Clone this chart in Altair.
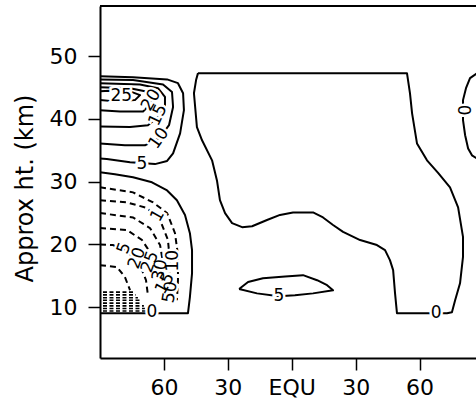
import altair as alt
import pandas as pd

# ---- contour paths (latitude in degrees, negative = left hemisphere; height in km) ----
# Zero line bounding the central region
ZERO_MID_LAT = [-44.0, 54.1, 55.5, 56.5, 58.8, 63.5, 68.7, 74.3, 78.1, 80.4, 80.4, 79.0, 76.7,
                75.2, 72.9, 49.4, 48.5, 47.6, 46.1, 43.8, 40.0, 32.1, 24.1, 19.4, 14.7, 10.0,
                0.6, -5.5, -11.6, -18.6, -23.3, -28.0, -31.3, -33.7, -35.1, -37.4, -42.1,
                -44.5, -45.9, -44.9, -44.0]
ZERO_MID_KM = [47.3, 47.3, 44.1, 40.9, 36.1, 33.4, 31.4, 29.1, 25.9, 21.2, 18.0, 13.8, 11.1,
               9.2, 9.04, 9.04, 12.2, 15.9, 17.5, 19.1, 19.9, 20.7, 22.0, 23.1, 24.3, 25.1,
               25.1, 24.7, 23.9, 22.9, 22.75, 23.4, 25.0, 27.05, 30.2, 33.4, 36.6,
               38.7, 44.1, 46.2, 47.3]

# Small closed 5 contour near the equator
FIVE_EQ_LAT = [-24.7, -20.5, -13.5, -3.1, 5.3, 11.9, 16.6, 19.4, 10.0, 1.5, -6.0, -16.3, -24.7]
FIVE_EQ_KM = [12.9, 14.0, 14.6, 14.9, 15.1, 14.3, 13.5, 12.7, 12.2, 11.9, 11.75, 12.2, 12.9]

# Zero line entering from the right edge
ZERO_RIGHT_LAT = [87.0, 83.7, 81.8, 80.4, 80.4, 81.4, 82.8, 84.6, 87.0, 90.8]
ZERO_RIGHT_KM = [47.3, 46.5, 44.9, 43.0, 39.8, 37.4, 35.3, 34.2, 33.7, 33.4]

# Zero line below the left upper jet
ZERO_LEFT_LAT = [-90.0, -83.0, -74.5, -65.6, -58.5, -53.9, -50.1, -47.8, -46.8, -46.8,
                 -47.8, -48.7, -62.8, -90.0]
ZERO_LEFT_KM = [31.5, 31.2, 30.7, 29.9, 28.6, 27.05, 24.7, 21.8, 19.1, 15.4,
                11.6, 9.04, 9.04, 9.04]

# Upper left jet: 5, 10, 15, 20 and 25 contours
JET5_LAT = [-90.0, -74.5, -58.5, -53.4, -51.0, -50.6, -52.4, -55.7, -58.5, -64.2, -75.9, -86.8, -90.0]
JET5_KM = [46.8, 46.65, 46.3, 45.7, 44.1, 41.4, 37.7, 34.5, 33.3, 32.8, 33.1, 33.6, 33.7]
JET10_LAT = [-90.0, -74.5, -60.4, -56.2, -55.7, -57.6, -62.0, -68.9, -78.3, -90.0]
JET10_KM = [46.3, 46.2, 45.5, 44.3, 41.9, 39.0, 37.0, 35.8, 35.8, 36.1]
JET15_LAT = [-90.0, -71.2, -62.8, -59.5, -59.5, -62.8, -67.5, -75.9, -90.0]
JET15_KM = [45.7, 45.5, 44.9, 43.5, 41.9, 40.3, 39.0, 38.7, 38.8]
JET20_LAT = [-90.0, -75.9, -68.9, -65.6, -66.5, -69.8, -80.6, -90.0]
JET20_KM = [45.06, 44.9, 44.4, 43.5, 42.3, 41.2, 41.2, 41.4]
JET25_LAT = [-90.0, -85.3, -75.9, -71.2, -73.6, -83.0, -90.0]
JET25_KM = [44.4, 44.5, 44.4, 43.8, 43.0, 42.8, 43.0]

# Lower left easterlies (dashed)
EAST_ARCS = {
    "e1": ([-90.0, -74.5, -65.1, -58.5, -54.8, -53.4, -53.4, -53.9],
           [29.1, 28.3, 26.7, 25.0, 21.8, 18.3, 14.3, 11.1]),
    "e2": ([-90.0, -77.3, -67.9, -61.8, -58.1, -57.1, -57.6],
           [27.05, 26.7, 25.8, 23.9, 20.7, 17.0, 13.5]),
    "e3": ([-90.0, -74.5, -66.5, -61.8, -60.0, -60.4],
           [25.0, 24.3, 22.6, 19.9, 16.2, 13.5]),
    "e4": ([-90.0, -77.3, -70.3, -65.6, -63.7, -63.7],
           [22.6, 22.3, 20.7, 18.3, 15.1, 12.7]),
    "e5": ([-90.0, -83.9, -76.9, -71.2, -68.4, -67.5],
           [20.0, 19.9, 18.8, 16.7, 14.3, 11.9]),
    "e6": ([-90.0, -82.0, -78.3, -75.9],
           [16.7, 16.4, 14.8, 12.7]),
}

# Tightly packed easterly contours near the lower left corner
PACK_KM = [12.4, 11.96, 11.5, 11.1, 10.65, 10.2, 9.8, 9.4]
PACK_START_LAT = -88.6
PACK_END_LAT = [-74.5, -73.1, -72.2, -71.2, -70.3, -69.4, -68.9, -68.4]

# Contour labels
LABEL_TEXT = ["0", "0", "0", "5", "5", "10", "15", "20", "25",
              "1", "5", "20", "25", "30", "10", "15", "50"]
LABEL_LAT = [67.8, 80.4, -65.6, -6.0, -70.3, -62.4, -62.8, -66.0, -80.0,
             -63.0, -78.7, -72.6, -66.5, -61.8, -55.7, -59.5, -57.1]
LABEL_KM = [9.04, 41.4, 9.3, 11.75, 32.8, 36.9, 40.6, 43.0, 43.7,
            24.6, 19.4, 17.8, 17.2, 15.9, 17.4, 13.8, 12.4]
LABEL_ANGLE = [0, 90, 0, 0, 0, 305, 295, 300, 0,
               300, 290, 290, 290, 280, 270, 300, 280]

LAT_DOMAIN = [-90, 86.5]
KM_DOMAIN = [1.9, 58]
FONT = "DejaVu Sans"
W, H = 376, 352


def path_rows(name, lats, kms):
    return [{"line": name, "i": i, "lat": la, "km": k} for i, (la, k) in enumerate(zip(lats, kms))]


solid_rows = []
for name, la, k in [
    ("zero_mid", ZERO_MID_LAT, ZERO_MID_KM),
    ("five_eq", FIVE_EQ_LAT, FIVE_EQ_KM),
    ("zero_right", ZERO_RIGHT_LAT, ZERO_RIGHT_KM),
    ("zero_left", ZERO_LEFT_LAT, ZERO_LEFT_KM),
    ("jet5", JET5_LAT, JET5_KM),
    ("jet10", JET10_LAT, JET10_KM),
    ("jet15", JET15_LAT, JET15_KM),
    ("jet20", JET20_LAT, JET20_KM),
    ("jet25", JET25_LAT, JET25_KM),
]:
    solid_rows += path_rows(name, la, k)
solid_df = pd.DataFrame(solid_rows)

dash_rows = []
for name, (la, k) in EAST_ARCS.items():
    dash_rows += path_rows(name, la, k)
dash_df = pd.DataFrame(dash_rows)

pack_rows = []
for j, (k, end) in enumerate(zip(PACK_KM, PACK_END_LAT)):
    pack_rows += path_rows(f"p{j}", [PACK_START_LAT, end], [k, k])
pack_df = pd.DataFrame(pack_rows)

label_df = pd.DataFrame({"text": LABEL_TEXT, "lat": LABEL_LAT, "km": LABEL_KM, "angle": LABEL_ANGLE})

x_scale = alt.Scale(domain=LAT_DOMAIN, nice=False, zero=False)
y_scale = alt.Scale(domain=KM_DOMAIN, nice=False, zero=False)

x_axis = alt.Axis(
    orient="bottom", values=[-60, -30, 0, 30, 60],
    labelExpr="datum.value == 0 ? '\u00a0EQU' : abs(datum.value) + '\u00a0\u00a0'",
    tickSize=12, tickWidth=1.5, tickColor="black", domainColor="black", domainWidth=2,
    labelFont=FONT, labelFontSize=22, labelColor="black", labelPadding=7, labelAngle=0,
    grid=False, title=None,
)
y_axis = alt.Axis(
    orient="left", values=[10, 20, 30, 40, 50],
    tickSize=12, tickWidth=1.5, tickColor="black", domainColor="black", domainWidth=2,
    labelFont=FONT, labelFontSize=22, labelColor="black", labelPadding=11,
    grid=False, title="Approx ht. (km)", titleFont=FONT, titleFontSize=24,
    titleFontWeight="normal", titleColor="black", titleAngle=270,
    titleBaseline="alphabetic", titleAlign="center", titleX=-68, titleY=182,
)

solid = alt.Chart(solid_df).mark_line(color="black", strokeWidth=2, strokeJoin="round", clip=True).encode(
    x=alt.X("lat:Q", scale=x_scale, axis=x_axis),
    y=alt.Y("km:Q", scale=y_scale, axis=y_axis),
    detail="line:N",
    order="i:Q",
)

dashed = alt.Chart(dash_df).mark_line(color="black", strokeWidth=2, strokeDash=[6, 4], clip=True).encode(
    x=alt.X("lat:Q", scale=x_scale),
    y=alt.Y("km:Q", scale=y_scale),
    detail="line:N",
    order="i:Q",
)

packed = alt.Chart(pack_df).mark_line(color="black", strokeWidth=1.6, strokeDash=[4, 2.5], clip=True).encode(
    x=alt.X("lat:Q", scale=x_scale),
    y=alt.Y("km:Q", scale=y_scale),
    detail="line:N",
    order="i:Q",
)

halo = alt.Chart(label_df).mark_text(
    font=FONT, fontSize=17, fill="white", stroke="white", strokeWidth=5,
    align="center", baseline="middle",
).encode(
    x=alt.X("lat:Q", scale=x_scale),
    y=alt.Y("km:Q", scale=y_scale),
    text="text:N",
    angle=alt.Angle("angle:Q", scale=None),
)

labels = alt.Chart(label_df).mark_text(
    font=FONT, fontSize=17, color="black", align="center", baseline="middle",
).encode(
    x=alt.X("lat:Q", scale=x_scale),
    y=alt.Y("km:Q", scale=y_scale),
    text="text:N",
    angle=alt.Angle("angle:Q", scale=None),
)

# top edge of the frame
frame_top = alt.Chart(pd.DataFrame({"k": [0]})).mark_rule(color="black", strokeWidth=2).encode(
    x=alt.value(0), x2=alt.value(W), y=alt.value(0)
)

chart = alt.layer(solid, dashed, packed, halo, labels, frame_top).properties(
    width=W,
    height=H,
    autosize=alt.AutoSizeParams(type="none"),
    padding={"left": 100, "top": 6, "right": 0, "bottom": 45},
    background="white",
).configure_view(stroke=None)

chart.save("out.html", embed_options={"renderer": "svg", "actions": False})
